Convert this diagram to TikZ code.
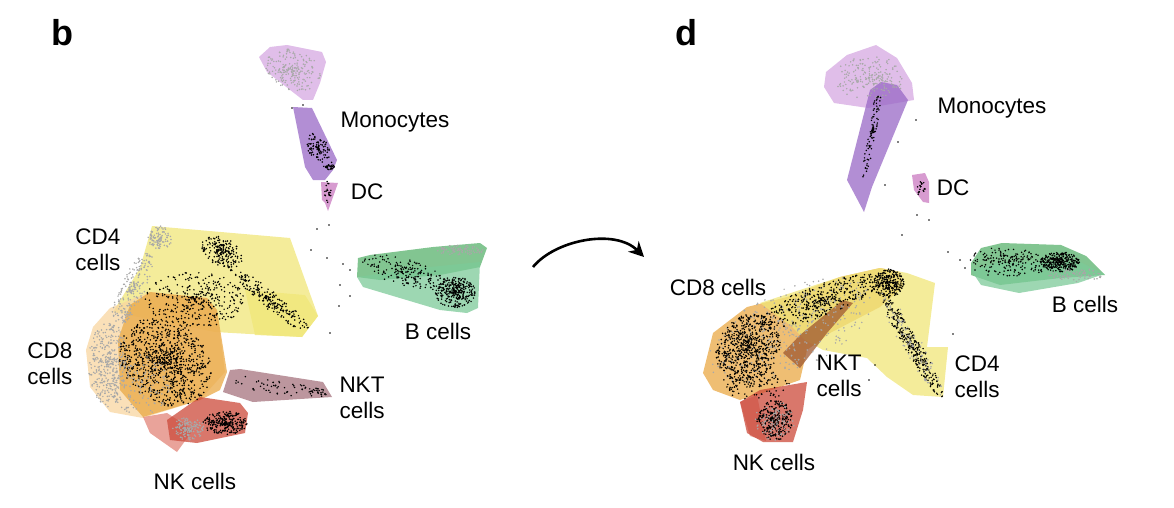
\documentclass[tikz,border=0pt]{standalone}
\usepackage{fontspec}
\setmainfont{Liberation Sans}
\usetikzlibrary{arrows.meta}

\definecolor{monolight}{RGB}{214,168,226}
\definecolor{monodark}{RGB}{152,104,198}
\definecolor{dcpink}{RGB}{202,122,192}
\definecolor{cdyellow}{RGB}{240,230,120}
\definecolor{cdorange}{RGB}{234,168,68}
\definecolor{cdpeach}{RGB}{248,214,160}
\definecolor{nkred}{RGB}{204,74,58}
\definecolor{nksalmon}{RGB}{226,132,120}
\definecolor{nktmauve}{RGB}{165,115,125}
\definecolor{nktbrown}{RGB}{158,88,48}
\definecolor{bgreen}{RGB}{88,178,108}
\definecolor{bgreenlight}{RGB}{124,202,152}
\definecolor{cellgray}{RGB}{168,168,168}

\tikzset{
  hull/.style={fill=#1, fill opacity=0.75, draw=none},
  lbl/.style={font=\fontsize{22.5}{26}\selectfont, inner sep=0pt},
  panel/.style={font=\fontsize{36}{40}\selectfont\bfseries, inner sep=0pt}
}

% random cloud of cells: cx, cy, rx, ry, angle, count, colour
\newcommand{\dotcloud}[7]{%
  \foreach \k in {1,...,#6}{%
    \pgfmathsetmacro{\rr}{rnd^0.7}%
    \pgfmathsetmacro{\tt}{360*rnd}%
    \pgfmathsetmacro{\du}{\rr*cos(\tt)*#3}%
    \pgfmathsetmacro{\dv}{\rr*sin(\tt)*#4}%
    \pgfmathsetmacro{\px}{#1+\du*cos(#5)-\dv*sin(#5)}%
    \pgfmathsetmacro{\py}{#2+\du*sin(#5)+\dv*cos(#5)}%
    \fill[#7] (\px,\py) circle (0.85);
  }}

\begin{document}
\begin{tikzpicture}[x=1pt, y=-1pt]
\pgfmathsetseed{42}
\useasboundingbox (0,0) rectangle (1174,508);

% ---------- panel b ----------
% hulls
\fill[hull=monolight] (259,57) -- (270,47) -- (287,45) -- (322,52) -- (326,62) -- (320,83) -- (313,100) -- (303,100) -- (267,72) -- cycle;
\fill[hull=monodark] (293,107) -- (312,108) -- (337,160) -- (333,170) -- (325,180) -- (313,180) -- (305,167) -- cycle;
\fill[hull=dcpink] (321,182) -- (338,183) -- (333,197) -- (328,211) -- (325,203) -- (322,200) -- cycle;
\fill[hull=cdyellow] (152,226) -- (175,228) -- (290,238) -- (318,316) -- (302,337) -- (215,332) -- (113,312) -- (140,268) -- cycle;
\fill[hull=cdyellow] (245,290) -- (305,295) -- (318,316) -- (302,337) -- (255,335) -- cycle;
\fill[hull=cdpeach] (110,308) -- (150,292) -- (207,298) -- (217,310) -- (225,372) -- (200,400) -- (143,418) -- (110,412) -- (90,387) -- (86,350) -- (93,327) -- cycle;
\fill[hull=cdorange] (150,292) -- (207,298) -- (217,310) -- (227,372) -- (220,390) -- (200,400) -- (143,417) -- (120,390) -- (118,340) -- (130,305) -- cycle;
\fill[hull=nksalmon] (143,417) -- (167,413) -- (193,430) -- (177,452) -- (150,433) -- cycle;
\fill[hull=nkred] (167,420) -- (200,397) -- (240,403) -- (248,413) -- (245,433) -- (197,443) -- (170,440) -- cycle;
\fill[hull=nktmauve] (230,370) -- (240,369) -- (323,382) -- (332,397) -- (253,402) -- (223,392) -- cycle;
\fill[hull=bgreen] (358,258) -- (370,255) -- (433,247) -- (480,243) -- (487,248) -- (480,267) -- (440,275) -- (380,280) -- (357,277) -- cycle;
\fill[hull=bgreenlight] (357,277) -- (420,268) -- (480,262) -- (478,308) -- (467,313) -- (440,310) -- (363,287) -- cycle;

% cells
\dotcloud{293}{70}{28}{20}{20}{200}{cellgray}
\dotcloud{318}{148}{16}{10}{60}{100}{black}
\dotcloud{329}{166}{6}{4}{0}{30}{black}
\dotcloud{328}{192}{4}{11}{0}{20}{black}
\dotcloud{160}{238}{12}{12}{0}{100}{cellgray}
\dotcloud{132}{290}{42}{12}{-65}{220}{cellgray}
\dotcloud{108}{365}{20}{42}{0}{350}{cellgray}
\dotcloud{222}{252}{22}{14}{30}{200}{black}
\dotcloud{270}{300}{50}{9}{38}{200}{black}
\dotcloud{195}{300}{50}{28}{0}{350}{black}
\dotcloud{165}{362}{50}{40}{40}{900}{black}
\dotcloud{140}{385}{30}{30}{0}{150}{cellgray}
\dotcloud{188}{428}{16}{12}{0}{150}{cellgray}
\dotcloud{225}{423}{22}{12}{0}{250}{black}
\dotcloud{275}{386}{48}{8}{8}{50}{black}
\dotcloud{318}{392}{9}{4}{15}{25}{black}
\dotcloud{405}{272}{45}{14}{15}{180}{black}
\dotcloud{455}{292}{20}{16}{0}{300}{black}
\dotcloud{460}{250}{25}{5}{0}{80}{cellgray}
\foreach \p in {(292,108),(303,105),(329,225),(317,229),(311,250),(327,258),(343,264),(350,270),(340,285),(350,296),(330,333),(339,306)}
  \fill[black] \p circle (0.9);

% labels
\node[panel] (b-label) at (62,33) {b};
\node[lbl] (mono-b) at (395,122) {Monocytes};
\node[lbl] (dc-b) at (367,192) {DC};
\node[lbl, align=left] (cd4-b) at (98,250) {CD4\\cells};
\node[lbl, align=left] (cd8-b) at (50,364) {CD8\\cells};
\node[lbl] (bcell-b) at (438,331) {B cells};
\node[lbl, align=left] (nkt-b) at (362,398) {NKT\\cells};
\node[lbl] (nk-b) at (195,481) {NK cells};

% ---------- panel d ----------
% hulls
\fill[hull=monolight] (826,72) -- (847,55) -- (876,45) -- (897,58) -- (912,83) -- (914,100) -- (868,108) -- (834,103) -- (824,87) -- cycle;
\fill[hull=monodark] (881,82) -- (897,85) -- (908,100) -- (872,187) -- (864,212) -- (847,180) -- (870,90) -- cycle;
\fill[hull=dcpink] (912,175) -- (925,173) -- (929,182) -- (929,203) -- (923,202) -- (914,190) -- cycle;
\fill[hull=bgreen] (981,248) -- (1002,243) -- (1061,245) -- (1086,256) -- (1105,275) -- (1060,278) -- (1000,285) -- (971,275) -- (971,263) -- cycle;
\fill[hull=bgreenlight] (971,270) -- (1000,262) -- (1080,262) -- (1104,274) -- (1078,283) -- (1019,293) -- (981,285) -- cycle;
\fill[hull=cdorange] (703,373) -- (713,333) -- (747,307) -- (787,297) -- (840,277) -- (880,268) -- (900,272) -- (903,287) -- (880,307) -- (830,333) -- (807,350) -- (800,380) -- (763,393) -- (740,400) -- (713,390) -- cycle;
\fill[hull=cdyellow] (760,303) -- (840,277) -- (880,268) -- (907,273) -- (935,283) -- (927,347) -- (948,347) -- (943,397) -- (913,395) -- (887,377) -- (867,358) -- (823,350) -- (805,340) -- (790,325) -- cycle;
\fill[hull=nktbrown] (783,353) -- (800,335) -- (843,300) -- (853,303) -- (827,333) -- (800,368) -- cycle;
\fill[hull=nksalmon] (740,402) -- (757,395) -- (766,441) -- (750,436) -- cycle;
\fill[hull=nkred] (740,402) -- (760,390) -- (807,382) -- (803,410) -- (793,442) -- (763,442) -- (747,433) -- cycle;

% cells
\dotcloud{870}{78}{35}{22}{0}{200}{cellgray}
\dotcloud{872}{132}{50}{4}{100}{90}{black}
\dotcloud{921}{188}{4}{11}{0}{20}{black}
\dotcloud{1010}{262}{40}{14}{5}{180}{black}
\dotcloud{1060}{262}{20}{10}{0}{300}{black}
\dotcloud{1075}{275}{28}{7}{0}{80}{cellgray}
\dotcloud{790}{330}{90}{40}{-25}{350}{cellgray}
\dotcloud{748}{348}{36}{30}{-55}{700}{black}
\dotcloud{822}{300}{65}{16}{-20}{400}{black}
\dotcloud{888}{283}{16}{14}{0}{250}{black}
\dotcloud{912}{345}{60}{8}{60}{300}{black}
\dotcloud{912}{345}{60}{10}{60}{100}{cellgray}
\dotcloud{755}{385}{35}{15}{0}{100}{black}
\dotcloud{775}{420}{18}{20}{0}{280}{black}
\dotcloud{775}{420}{20}{20}{0}{80}{cellgray}
\foreach \p in {(916,120),(898,142),(885,185),(917,215),(929,220),(902,235),(948,252),(960,260),(965,268),(975,270),(988,275),(862,282),(953,334),(875,365),(869,380)}
  \fill[black] \p circle (0.9);

% labels
\node[panel] (d-label) at (686,33) {d};
\node[lbl] (mono-d) at (992,108) {Monocytes};
\node[lbl] (dc-d) at (953,188) {DC};
\node[lbl] (cd8-d) at (718,287) {CD8 cells};
\node[lbl, align=left] (nkt-d) at (839,376) {NKT\\cells};
\node[lbl, align=left] (cd4-d) at (977,377) {CD4\\cells};
\node[lbl] (bcell-d) at (1085,304) {B cells};
\node[lbl] (nk-d) at (774,462) {NK cells};

% arrow between panels
\coordinate (arrowstart) at (533,267);
\coordinate (arrowend) at (644,257);
\draw[line width=2.6pt, -{Stealth[length=15pt, width=15pt]}] (arrowstart) .. controls (555,240) and (615,228) .. (arrowend);
\end{tikzpicture}
\end{document}
